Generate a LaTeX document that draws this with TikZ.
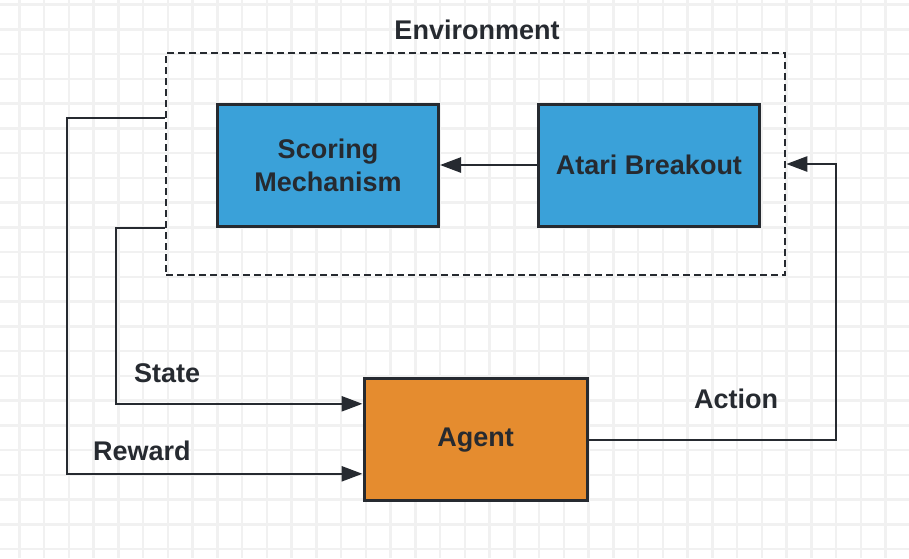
\documentclass[tikz,border=0pt]{standalone}
\usepackage{fontspec}
\setmainfont{Liberation Sans}
\usetikzlibrary{arrows.meta,positioning}
\definecolor{boxblue}{HTML}{3AA1D9}
\definecolor{boxorange}{HTML}{E58C2F}
\definecolor{ink}{HTML}{262A30}
\definecolor{gridgray}{HTML}{F1F1F1}

\begin{document}
\begin{tikzpicture}[x=1pt, y=-1pt]
\tikzstyle{block}=[rectangle, draw=ink, line width=3pt, minimum width=221pt, minimum height=122pt, inner sep=0pt, align=center, text=ink, font=\fontsize{27}{33}\selectfont\bfseries]
\tikzstyle{connect}=[-{Triangle[length=21pt, width=15pt]}, draw=ink, line width=2.6pt]
\tikzstyle{tag}=[inner sep=0pt, anchor=base west, text=ink, font=\fontsize{27}{33}\selectfont\bfseries]
\tikzstyle{gridline}=[gridgray, line width=2.5pt]

  \useasboundingbox (0,0) rectangle (909,558);
  \fill[white] (0,0) rectangle (909,558);

%% Grid
  \foreach \gx in {0,...,35} \draw[gridline] ({19.3+24.75*\gx},0) -- ++(0,558);
  \foreach \gy in {0,...,22} \draw[gridline] (0,{4.5+24.75*\gy}) -- ++(909,0);

%% Environment
  \node[rectangle, draw=ink, line width=2.6pt, dash pattern=on 7pt off 4pt, minimum width=619pt, minimum height=222pt] (env) at (475.5,164) {};
  \node[block, fill=boxblue] (scoring) at (328,165) {Scoring\\Mechanism};
  \node[block, fill=boxblue] (atari) [right=97pt of scoring] {Atari Breakout};

%% Agent
  \node[block, fill=boxorange, minimum width=223pt] (agent) [below=101pt of env] {Agent};

  \coordinate (reward_turn) at (67,118);
  \coordinate (state_turn) at (116,228);
  \coordinate (action_turn) at (836,164);

  \path (atari) edge [connect] (scoring);
  \draw[connect] (agent.east) -| (action_turn) -- (env.east);
  \draw[connect] (env.west |- reward_turn) -- (reward_turn) |- ([yshift=-34pt]agent.west);
  \draw[connect] (env.west |- state_turn) -- (state_turn) |- ([yshift=36pt]agent.west);

  % Labels
  \node[tag, anchor=base] (env_label) at (477,39) {Environment};
  \node[tag] (state_label) at (134,382) {State};
  \node[tag] (reward_label) at (93,460) {Reward};
  \node[tag] (action_label) at (694,408) {Action};
\end{tikzpicture}
\end{document}
